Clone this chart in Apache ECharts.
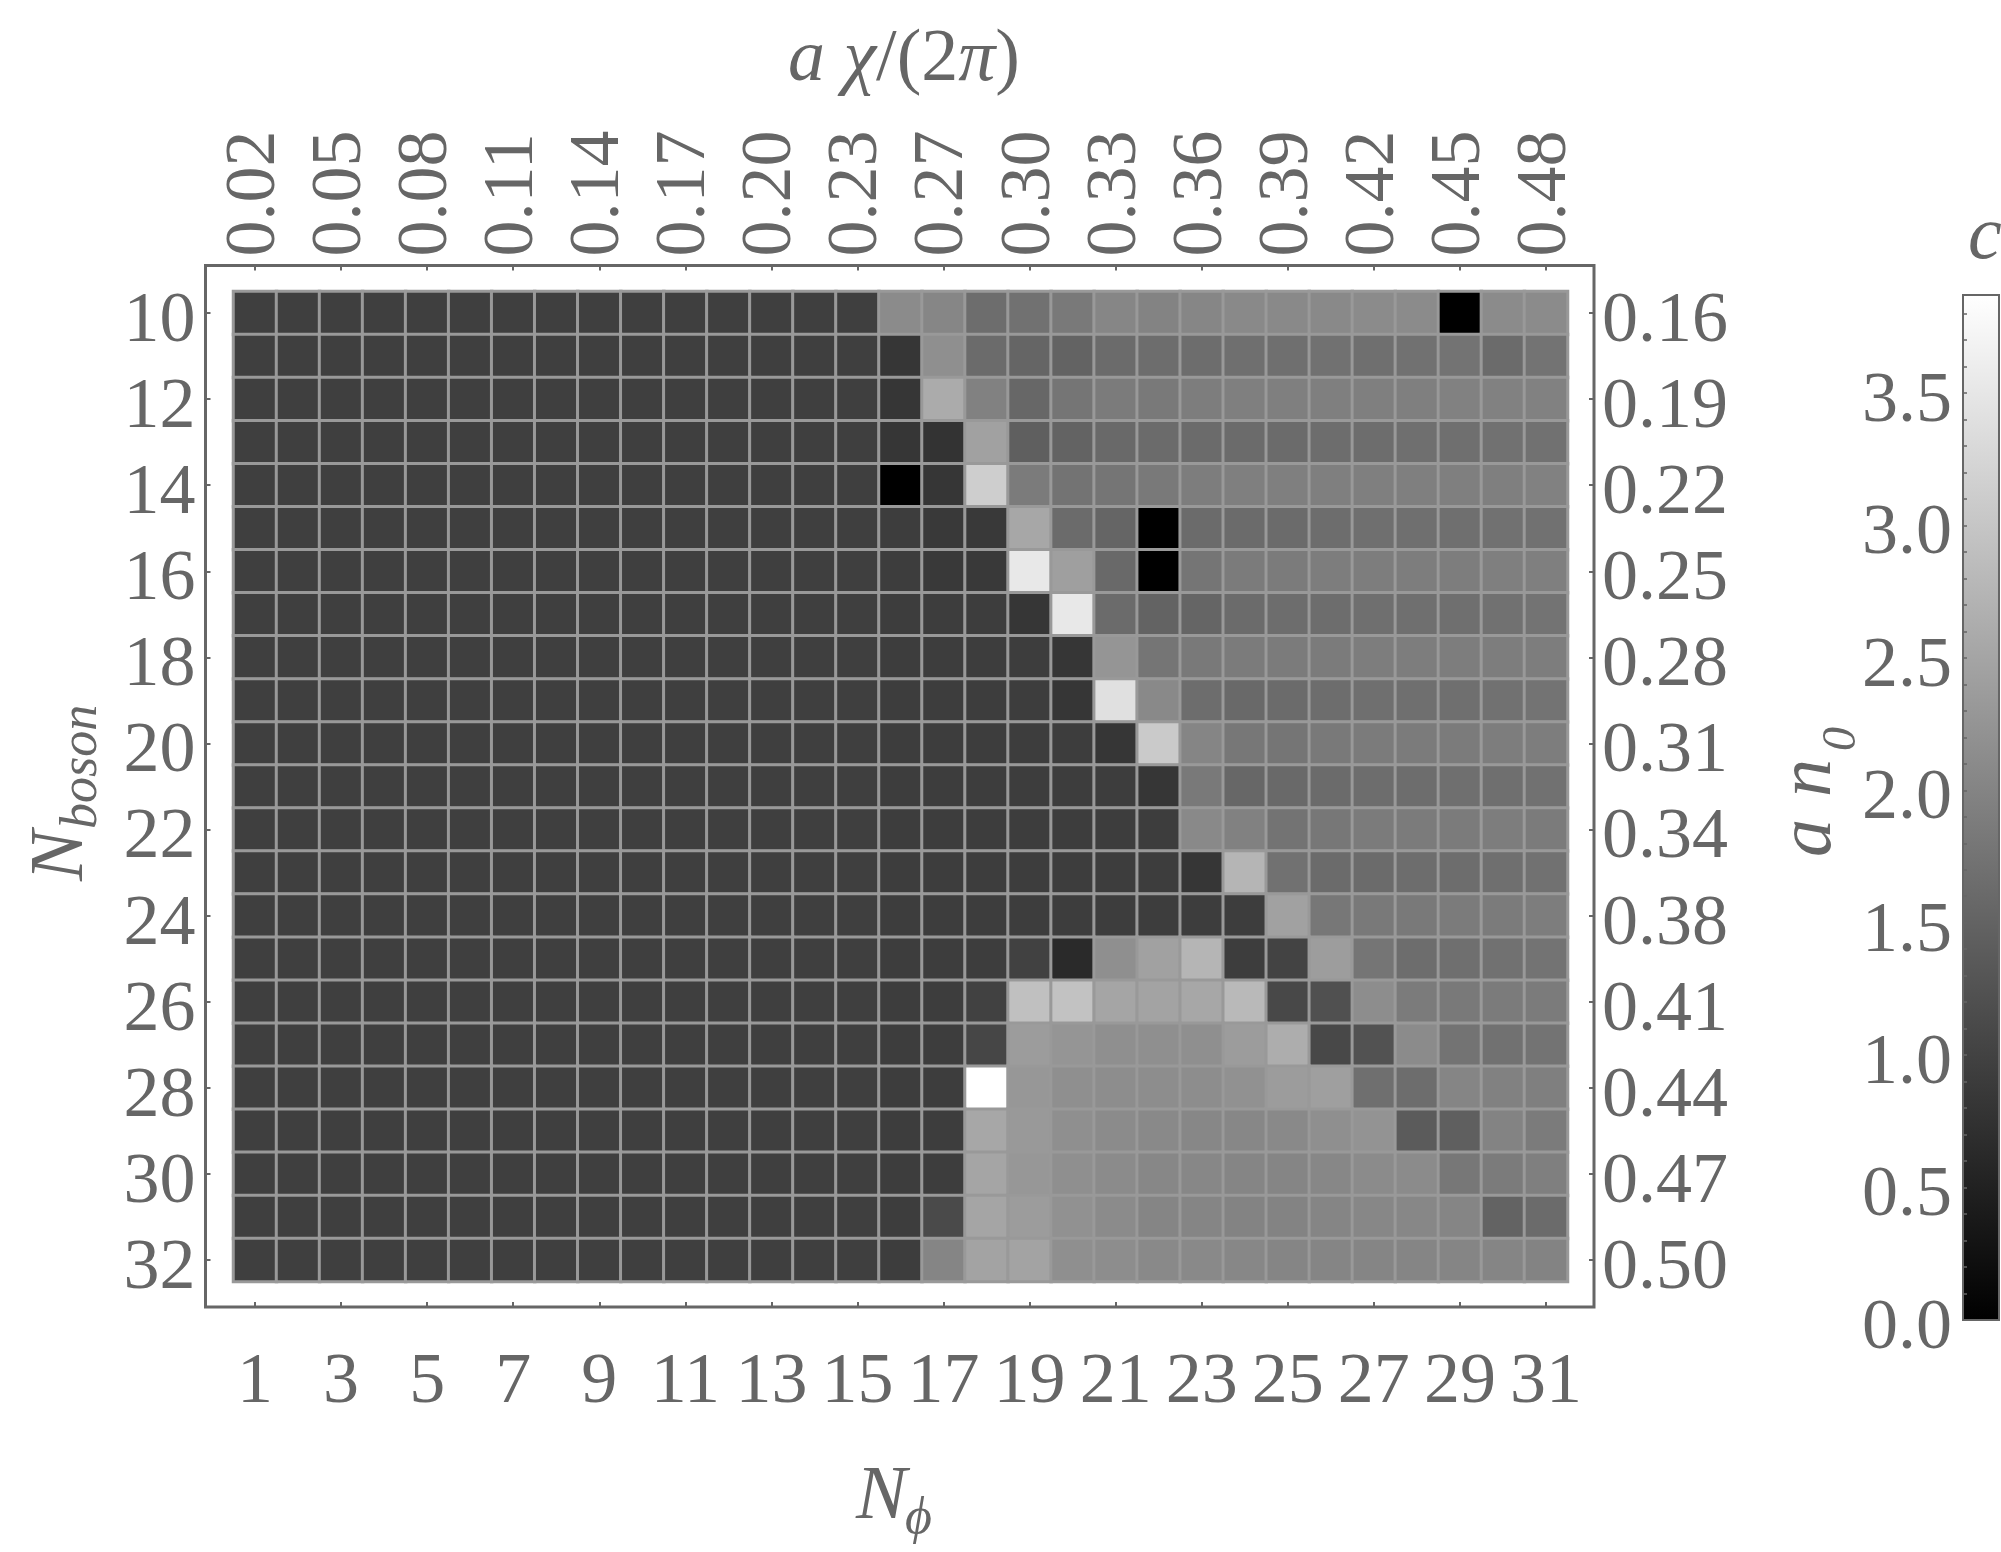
<!DOCTYPE html>
<html>
<head>
<meta charset="utf-8">
<script src="https://cdn.jsdelivr.net/npm/echarts@6/dist/echarts.min.js"></script>
<style>
html,body{margin:0;padding:0;background:#fff;}
#c{width:2001px;height:1552px;}
</style>
</head>
<body>
<div id="c"></div>
<script>
// ---- data ----
const nPhi = [1,2,3,4,5,6,7,8,9,10,11,12,13,14,15,16,17,18,19,20,21,22,23,24,25,26,27,28,29,30,31];
const nBoson = [10,11,12,13,14,15,16,17,18,19,20,21,22,23,24,25,26,27,28,29,30,31,32];
// top axis (a chi / 2pi) labels at odd N_phi
const chiLabels = ['0.02','0.05','0.08','0.11','0.14','0.17','0.20','0.23','0.27','0.30','0.33','0.36','0.39','0.42','0.45','0.48'];
// right axis (a n0) labels at even N_boson
const n0Labels = ['0.16','0.19','0.22','0.25','0.28','0.31','0.34','0.38','0.41','0.44','0.47','0.50'];
const cMin = 0, cMax = 3.87;
// c values, one row per N_boson (10..32), columns N_phi 1..31
const cValues = [
 [0.96,0.96,0.96,0.96,0.96,0.96,0.96,0.96,0.96,0.96,0.96,0.96,0.96,0.96,0.96, 2.11,2.03,1.65,1.71,1.84,2.03,1.99,2.03,2.08,2.08,2.08,2.11,2.11,0,2.11,2.11],
 [0.96,0.96,0.96,0.96,0.96,0.96,0.96,0.96,0.96,0.96,0.96,0.96,0.96,0.96,0.96, 0.82,2.17,1.62,1.53,1.50,1.62,1.65,1.65,1.68,1.68,1.71,1.68,1.71,1.74,1.62,1.74],
 [0.96,0.96,0.96,0.96,0.96,0.96,0.96,0.96,0.96,0.96,0.96,0.96,0.96,0.96,0.96, 0.82,2.60,1.96,1.56,1.77,1.87,1.84,1.90,1.93,1.93,1.93,1.93,1.93,1.96,1.96,1.96],
 [0.96,0.96,0.96,0.96,0.96,0.96,0.96,0.96,0.96,0.96,0.96,0.96,0.96,0.96,0.96, 0.82,0.78,2.45,1.44,1.50,1.59,1.62,1.62,1.62,1.62,1.65,1.65,1.68,1.68,1.71,1.71],
 [0.96,0.96,0.96,0.96,0.96,0.96,0.96,0.96,0.96,0.96,0.96,0.96,0.96,0.96,0.96, 0,0.82,3.12,1.87,1.74,1.77,1.84,1.90,1.93,1.93,1.93,1.93,1.93,1.93,1.93,1.96],
 [0.96,0.96,0.96,0.96,0.96,0.96,0.96,0.96,0.96,0.96,0.96,0.96,0.96,0.96,0.96, 0.92,0.86,0.86,2.54,1.62,1.53,0,1.62,1.62,1.62,1.65,1.68,1.68,1.68,1.71,1.71],
 [0.96,0.96,0.96,0.96,0.96,0.96,0.96,0.96,0.96,0.96,0.96,0.96,0.96,0.96,0.96, 0.92,0.86,0.86,3.52,2.42,1.59,0,1.77,1.87,1.87,1.90,1.90,1.90,1.90,1.93,1.93],
 [0.96,0.96,0.96,0.96,0.96,0.96,0.96,0.96,0.96,0.96,0.96,0.96,0.96,0.96,0.96, 0.92,0.92,0.92,0.82,3.52,1.62,1.50,1.53,1.62,1.65,1.65,1.68,1.68,1.68,1.71,1.74],
 [0.96,0.96,0.96,0.96,0.96,0.96,0.96,0.96,0.96,0.96,0.96,0.96,0.96,0.96,0.96, 0.92,0.92,0.92,0.92,0.82,2.26,1.77,1.84,1.87,1.87,1.87,1.90,1.90,1.90,1.90,1.90],
 [0.96,0.96,0.96,0.96,0.96,0.96,0.96,0.96,0.96,0.96,0.96,0.96,0.96,0.96,0.96, 0.92,0.92,0.92,0.92,0.82,3.40,2.08,1.65,1.59,1.62,1.65,1.68,1.68,1.68,1.71,1.74],
 [0.96,0.96,0.96,0.96,0.96,0.96,0.96,0.96,0.96,0.96,0.96,0.96,0.96,0.96,0.96, 0.92,0.92,0.92,0.92,0.92,0.82,3.06,2.02,1.80,1.77,1.84,1.87,1.87,1.87,1.90,1.90],
 [0.96,0.96,0.96,0.96,0.96,0.96,0.96,0.96,0.96,0.96,0.96,0.96,0.96,0.96,0.96, 0.92,0.92,0.92,0.92,0.92,0.92,0.82,1.84,1.56,1.59,1.62,1.65,1.65,1.68,1.68,1.71],
 [0.96,0.96,0.96,0.96,0.96,0.96,0.96,0.96,0.96,0.96,0.96,0.96,0.96,0.96,0.96, 0.92,0.92,0.92,0.92,0.92,0.92,0.92,2.08,1.96,1.74,1.80,1.87,1.87,1.87,1.90,1.87],
 [0.96,0.96,0.96,0.96,0.96,0.96,0.96,0.96,0.96,0.96,0.96,0.96,0.96,0.96,0.96, 0.92,0.92,0.92,0.92,0.92,0.92,0.92,0.82,2.75,1.71,1.62,1.62,1.65,1.65,1.68,1.71],
 [0.96,0.96,0.96,0.96,0.96,0.96,0.96,0.96,0.96,0.96,0.96,0.96,0.96,0.96,0.96, 0.92,0.92,0.92,0.92,0.92,0.92,0.92,0.92,0.92,2.45,1.80,1.84,1.84,1.87,1.87,1.90],
 [0.96,0.96,0.96,0.96,0.96,0.96,0.96,0.96,0.96,0.96,0.96,0.96,0.96,0.96,0.96, 0.92,0.92,0.92,0.98,0.64,2.17,2.45,2.75,0.92,1.01,2.39,1.77,1.65,1.68,1.71,1.74],
 [0.96,0.96,0.96,0.96,0.96,0.96,0.96,0.96,0.96,0.96,0.96,0.96,0.96,0.96,0.96, 0.92,0.92,0.98,2.91,2.94,2.51,2.48,2.54,2.81,1.09,1.22,2.14,1.87,1.84,1.87,1.87],
 [0.96,0.96,0.96,0.96,0.96,0.96,0.96,0.96,0.96,0.96,0.96,0.96,0.96,0.96,0.96, 0.92,0.92,1.06,2.36,2.26,2.17,2.17,2.17,2.36,2.62,1.10,1.25,2.11,1.74,1.71,1.74],
 [0.96,0.96,0.96,0.96,0.96,0.96,0.96,0.96,0.96,0.96,0.96,0.96,0.96,0.96,0.96, 0.92,0.92,3.87,2.29,2.17,2.14,2.14,2.14,2.20,2.36,2.42,1.68,1.65,2.02,1.96,1.93],
 [0.96,0.96,0.96,0.96,0.96,0.96,0.96,0.96,0.96,0.96,0.96,0.96,0.96,0.96,0.96, 0.92,0.92,2.54,2.32,2.17,2.11,2.08,2.05,2.05,2.08,2.17,2.23,1.38,1.44,1.99,1.87],
 [0.96,0.96,0.96,0.96,0.96,0.96,0.96,0.96,0.96,0.96,0.96,0.96,0.96,0.96,0.96, 0.92,0.92,2.51,2.29,2.17,2.11,2.05,2.05,2.02,2.02,2.05,2.11,2.11,1.80,1.87,1.93],
 [0.96,0.96,0.96,0.96,0.96,0.96,0.96,0.96,0.96,0.96,0.96,0.96,0.96,0.96,0.96, 0.92,1.13,2.51,2.36,2.20,2.11,2.02,2.02,1.99,1.99,2.02,2.05,2.05,2.02,1.50,1.62],
 [0.96,0.96,0.96,0.96,0.96,0.96,0.96,0.96,0.96,0.96,0.96,0.96,0.96,0.96,0.96, 0.92,2.02,2.48,2.48,2.17,2.14,2.08,2.08,2.05,2.02,2.02,2.02,2.02,2.02,2.02,1.99]
];

// ---- build chart ----
const heatData = [];
cValues.forEach(function (row, yi) {
  row.forEach(function (v, xi) { heatData.push([xi, yi, v]); });
});

const FONT = '"Liberation Serif", "DejaVu Serif", serif';
const GRAY = '#666666';
const FS = 72;
const tickStyle = {show: true, inside: true, alignWithLabel: true, interval: 1, length: 5, lineStyle: {color: GRAY, width: 2}};
const labelBase = {fontFamily: FONT, fontSize: FS, color: GRAY};
// rich token that lowers the digits a little below the tick, as in the reference
const lowRich = {p: {fontFamily: FONT, fontSize: FS, color: GRAY, padding: [18, 0, 0, 0]}};
function itxt(text, size) {
  return {text: text, fontFamily: FONT, fontStyle: 'italic', fontSize: size, fill: GRAY, align: 'left', verticalAlign: 'middle'};
}

const chart = echarts.init(document.getElementById('c'), null, {renderer: 'canvas', width: 2001, height: 1552});
chart.setOption({
  backgroundColor: '#ffffff',
  animation: false,
  grid: [
    {left: 233.5, top: 291.5, width: 1334, height: 990},
    {left: 1963, top: 295, width: 36, height: 1025, show: true, borderColor: GRAY, borderWidth: 2,
     backgroundColor: new echarts.graphic.LinearGradient(0, 0, 0, 1, [{offset: 0, color: '#ffffff'}, {offset: 1, color: '#000000'}])}
  ],
  xAxis: [
    {type: 'category', gridIndex: 0, position: 'bottom', data: nPhi, offset: 25.5,
     axisLine: {show: false}, axisTick: tickStyle, splitLine: {show: false},
     axisLabel: Object.assign({}, labelBase, {interval: 1, margin: 40})},
    {type: 'category', gridIndex: 0, position: 'top', data: nPhi, offset: 26,
     axisLine: {show: false}, axisTick: tickStyle, splitLine: {show: false},
     axisLabel: Object.assign({}, labelBase, {interval: 1, margin: 9, rotate: -90,
       formatter: function (v, i) { return chiLabels[i / 2] || ''; }})},
    {type: 'value', gridIndex: 1, show: false, min: 0, max: 1}
  ],
  yAxis: [
    {type: 'category', gridIndex: 0, position: 'left', inverse: true, data: nBoson, offset: 28,
     axisLine: {show: false}, axisTick: tickStyle, splitLine: {show: false},
     axisLabel: Object.assign({}, labelBase, {interval: 1, margin: 10, rich: lowRich,
       formatter: function (v) { return '{p|' + v + '}'; }})},
    {type: 'category', gridIndex: 0, position: 'right', inverse: true, data: nBoson, offset: 26.5,
     axisLine: {show: false}, axisTick: tickStyle, splitLine: {show: false},
     axisLabel: Object.assign({}, labelBase, {interval: 1, margin: 8, rich: lowRich,
       formatter: function (v, i) { return n0Labels[i / 2] ? '{p|' + n0Labels[i / 2] + '}' : ''; }})},
    {type: 'value', gridIndex: 1, position: 'left', min: cMin, max: cMax, interval: 0.5,
     axisLine: {show: false},
     axisTick: {show: true, inside: true, length: 4, lineStyle: {color: GRAY, width: 1.5}},
     minorTick: {show: true, splitNumber: 5, length: 4, lineStyle: {color: GRAY, width: 1.5}},
     splitLine: {show: false}, minorSplitLine: {show: false},
     axisLabel: Object.assign({}, labelBase, {margin: 11, showMaxLabel: false,
       rich: {p: {fontFamily: FONT, fontSize: FS, color: GRAY, padding: [18, 0, 0, 0]}},
       formatter: function (v) { return '{p|' + v.toFixed(1) + '}'; }})}
  ],
  visualMap: {type: 'continuous', show: false, min: cMin, max: cMax, dimension: 2, seriesIndex: 0,
    inRange: {color: ['#000000', '#ffffff']}},
  series: [{
    type: 'heatmap', xAxisIndex: 0, yAxisIndex: 0, data: heatData, progressive: 0,
    itemStyle: {borderColor: '#999999', borderWidth: 3},
    emphasis: {disabled: true}
  }],
  graphic: [
    {type: 'rect', silent: true, z: 10,
     shape: {x: 205.5, y: 265.5, width: 1388.5, height: 1041.5},
     style: {fill: 'transparent', stroke: GRAY, lineWidth: 3}},
    {type: 'text', x: 904, y: 61, silent: true,
     style: {text: '{i|a χ}{n|/(2}{i|π}{n|)}', align: 'center', verticalAlign: 'middle',
       rich: {i: {fontFamily: FONT, fontStyle: 'italic', fontSize: 74, fill: GRAY},
              n: {fontFamily: FONT, fontSize: 74, fill: GRAY}}}},
    {type: 'text', x: 856, y: 1498, silent: true, style: itxt('N', 76)},
    {type: 'text', x: 905, y: 1519.5, silent: true, style: itxt('ϕ', 52)},
    {type: 'group', x: 0, y: 785, rotation: Math.PI / 2, silent: true, children: [
      {type: 'text', x: -96, y: 62.4, style: itxt('N', 76)},
      {type: 'text', x: -44, y: 82.5, style: itxt('boson', 52)}
    ]},
    {type: 'group', x: 0, y: 785, rotation: Math.PI / 2, silent: true, children: [
      {type: 'text', x: -72, y: 1810, style: itxt('a', 76)},
      {type: 'text', x: -12, y: 1810, style: itxt('n', 76)},
      {type: 'text', x: 34, y: 1842, style: itxt('0', 48)}
    ]},
    {type: 'text', x: 1968, y: 238, silent: true, style: itxt('c', 76)}
  ]
});
</script>
</body>
</html>
